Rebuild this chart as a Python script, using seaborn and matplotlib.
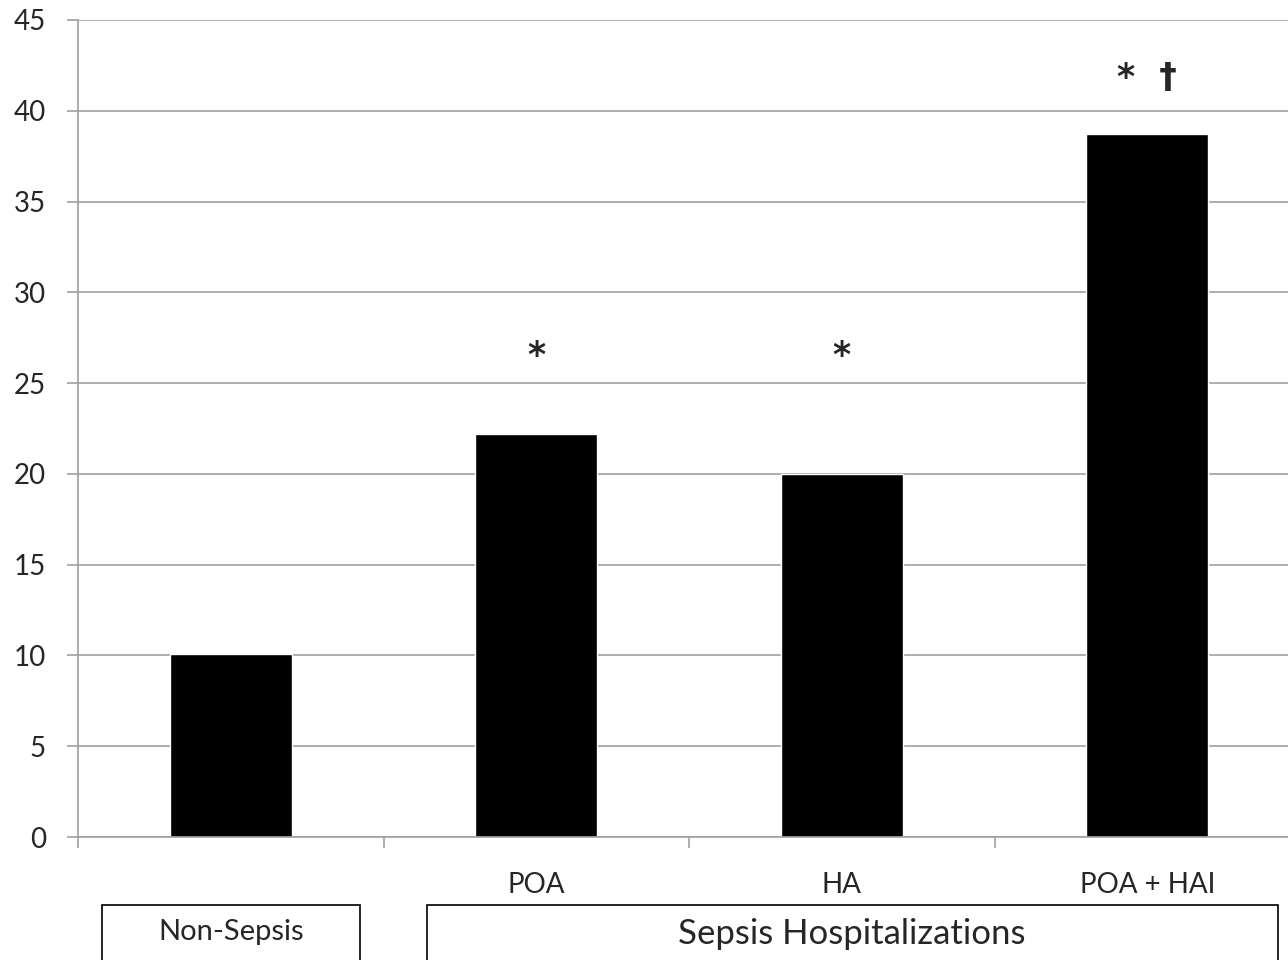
import matplotlib
matplotlib.use('Agg')
import matplotlib.pyplot as plt
import seaborn as sns
import pandas as pd
from matplotlib.patches import Rectangle

categories = ['Non-Sepsis', 'POA', 'HA', 'POA + HAI']
tick_labels = ['', 'POA', 'HA', 'POA + HAI']
values = [10.1, 22.2, 20.0, 38.7]
marks = ['', '*', '*', '*  \u2020']
groups = ['Non-Sepsis', 'Sepsis Hospitalizations']

df = pd.DataFrame({'category': categories, 'value': values})

sns.set_style('white')
plt.rcParams['font.family'] = ['Lato', 'DejaVu Sans']

W, H = 1288, 960
fig = plt.figure(figsize=(W / 100, H / 100), dpi=100)
ax = fig.add_axes([78 / W, 1 - 837 / H, (1300 - 78) / W, (837 - 20) / H])

sns.barplot(x='category', y='value', data=df, order=categories, color='black',
            width=0.4, ax=ax, saturation=1)

ax.set_ylim(0, 45)
ax.set_xlim(-0.5, 3.5)
ax.set_yticks(range(0, 46, 5))
ax.yaxis.grid(True, color='#a0a0a0', linewidth=1.2)
ax.set_axisbelow(True)
for s in ['top', 'right']:
    ax.spines[s].set_visible(False)
for s in ['left', 'bottom']:
    ax.spines[s].set_color('#a0a0a0')
    ax.spines[s].set_linewidth(1.2)

ax.set_xticks(range(len(categories)))
ax.set_xticklabels(tick_labels, fontsize=20)
ax.set_xticks([-0.5, 0.5, 1.5, 2.5], minor=True)
ax.tick_params(axis='x', which='major', length=0, pad=25)
ax.tick_params(axis='x', which='minor', length=8, color='#a0a0a0', width=1.2)
ax.tick_params(axis='y', length=8, color='#a0a0a0', width=1.2, pad=15, labelsize=20)
ax.tick_params(left=True, bottom=True, which='both')
ax.set_xlabel('')
ax.set_ylabel('')

ys = [0, 26.5, 26.5, 41.8]
for i, m in enumerate(marks):
    if m:
        ax.text(i, ys[i], m, ha='center', va='center', fontsize=25,
                fontweight='bold', family=['DejaVu Sans'])

# group boxes below the axis
fig.patches.append(Rectangle((102 / W, -0.05), (360 - 102) / W, 1 - 905 / H + 0.05,
                             transform=fig.transFigure, fill=False,
                             edgecolor='black', linewidth=1.2))
fig.patches.append(Rectangle((427 / W, -0.05), (1278 - 427) / W, 1 - 905 / H + 0.05,
                             transform=fig.transFigure, fill=False,
                             edgecolor='black', linewidth=1.2))
fig.text(231 / W, 1 - 932 / H, groups[0], ha='center', va='center', fontsize=21)
fig.text(852 / W, 1 - 934 / H, groups[1], ha='center', va='center', fontsize=25)

fig.savefig('out.png', dpi=100)
